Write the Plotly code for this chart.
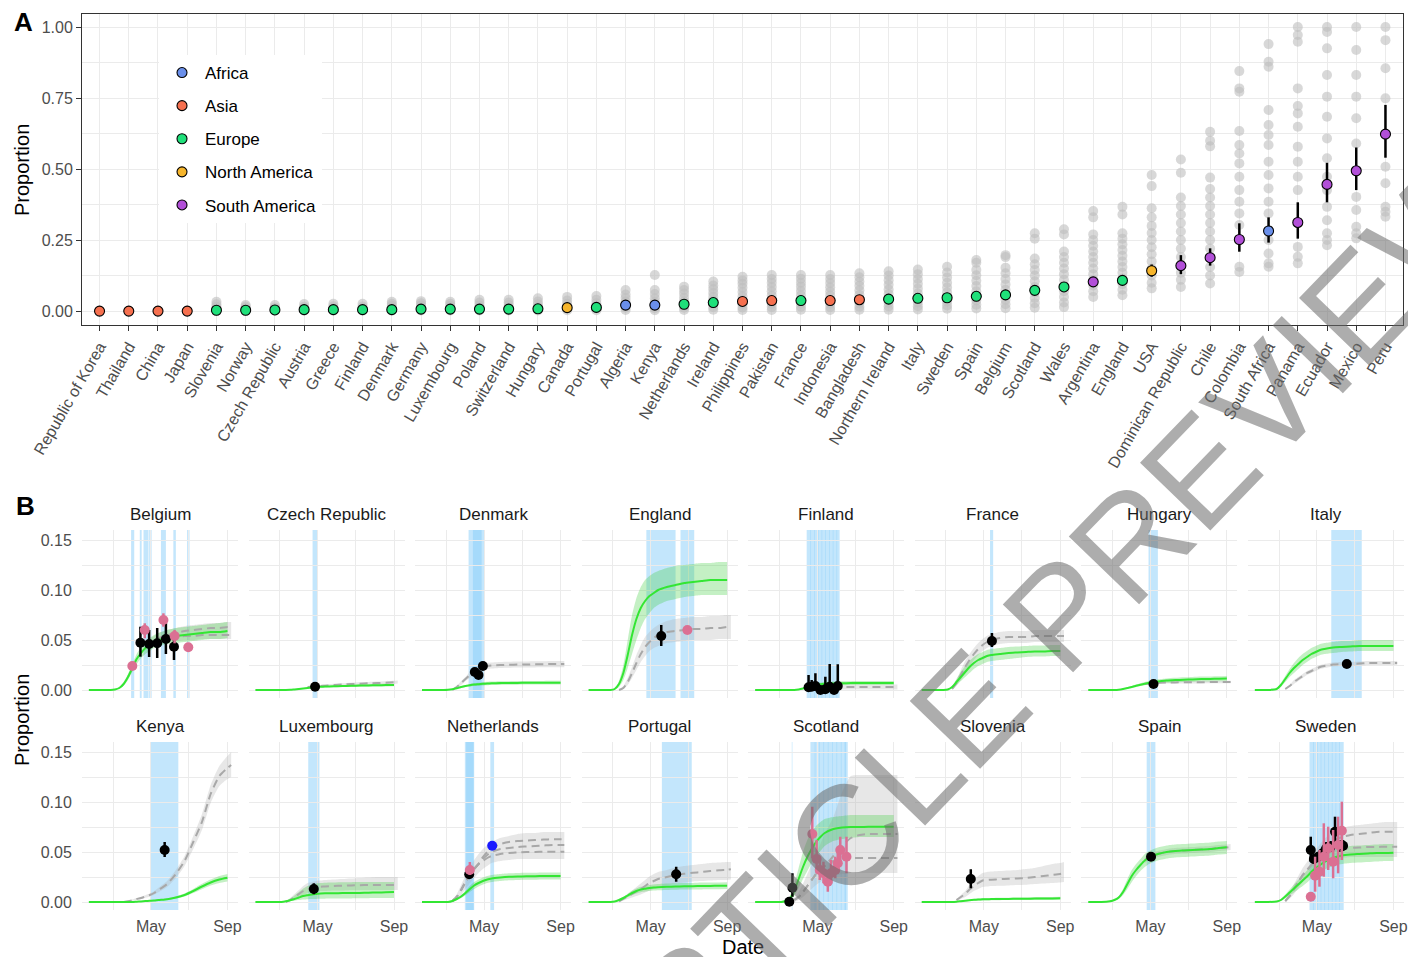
import plotly.graph_objects as go

N = None
FONT = "Liberation Sans, Arial, Helvetica, sans-serif"
W, H = 1408, 957

# ---------------- Panel A: estimated proportion per country ----------------
countries = ["Republic of Korea", "Thailand", "China", "Japan", "Slovenia", "Norway",
             "Czech Republic", "Austria", "Greece", "Finland", "Denmark", "Germany",
             "Luxembourg", "Poland", "Switzerland", "Hungary", "Canada", "Portugal",
             "Algeria", "Kenya", "Netherlands", "Ireland", "Philippines", "Pakistan",
             "France", "Indonesia", "Bangladesh", "Northern Ireland", "Italy", "Sweden",
             "Spain", "Belgium", "Scotland", "Wales", "Argentina", "England", "USA",
             "Dominican Republic", "Chile", "Colombia", "South Africa", "Panama",
             "Ecuador", "Mexico", "Peru"]
continent = ["Asia", "Asia", "Asia", "Asia", "Europe", "Europe",
             "Europe", "Europe", "Europe", "Europe", "Europe", "Europe",
             "Europe", "Europe", "Europe", "Europe", "North America", "Europe",
             "Africa", "Africa", "Europe", "Europe", "Asia", "Asia",
             "Europe", "Asia", "Asia", "Europe", "Europe", "Europe",
             "Europe", "Europe", "Europe", "Europe", "South America", "Europe", "North America",
             "South America", "South America", "South America", "Africa", "South America",
             "South America", "South America", "South America"]
estimate = [0.0, 0.0, 0.0, 0.0, 0.003, 0.003,
            0.004, 0.005, 0.005, 0.005, 0.005, 0.007,
            0.007, 0.007, 0.007, 0.008, 0.012, 0.013,
            0.021, 0.021, 0.024, 0.030, 0.034, 0.037,
            0.037, 0.037, 0.040, 0.042, 0.045, 0.047,
            0.052, 0.057, 0.073, 0.085, 0.103, 0.108, 0.142,
            0.160, 0.188, 0.252, 0.282, 0.312,
            0.446, 0.494, 0.623]
est_lo = [0.0, 0.0, 0.0, 0.0, 0.002, 0.002,
          0.003, 0.004, 0.004, 0.004, 0.004, 0.006,
          0.005, 0.006, 0.006, 0.007, 0.010, 0.011,
          0.018, 0.017, 0.021, 0.026, 0.030, 0.033,
          0.034, 0.033, 0.036, 0.038, 0.040, 0.043,
          0.047, 0.051, 0.066, 0.077, 0.094, 0.099, 0.121,
          0.130, 0.160, 0.209, 0.241, 0.255,
          0.383, 0.426, 0.540]
est_hi = [0.001, 0.001, 0.001, 0.001, 0.005, 0.005,
          0.006, 0.007, 0.007, 0.007, 0.007, 0.009,
          0.009, 0.009, 0.009, 0.010, 0.015, 0.016,
          0.025, 0.026, 0.028, 0.034, 0.039, 0.042,
          0.041, 0.042, 0.045, 0.046, 0.050, 0.052,
          0.058, 0.063, 0.081, 0.094, 0.113, 0.118, 0.164,
          0.197, 0.221, 0.309, 0.330, 0.383,
          0.522, 0.576, 0.726]
# sub-national estimates (grey dots), one list per country in the same order
region_vals = [
    [0.0, 0.001], [0.0, 0.001], [0.0, 0.001], [0.0, 0.002],
    [0.0, 0.004, 0.008, 0.015, 0.024, 0.033],
    [0.0, 0.003, 0.006, 0.011, 0.016, 0.021],
    [0.001, 0.004, 0.008, 0.013, 0.021],
    [0.001, 0.004, 0.009, 0.015, 0.025],
    [0.001, 0.005, 0.010, 0.017, 0.026],
    [0.001, 0.005, 0.010, 0.016, 0.026],
    [0.001, 0.005, 0.011, 0.019, 0.026, 0.033],
    [0.002, 0.006, 0.012, 0.020, 0.028, 0.035],
    [0.002, 0.006, 0.012, 0.019, 0.026, 0.033],
    [0.002, 0.007, 0.013, 0.020, 0.030, 0.040],
    [0.002, 0.007, 0.013, 0.021, 0.030, 0.040],
    [0.002, 0.008, 0.015, 0.024, 0.034, 0.045],
    [0.003, 0.009, 0.017, 0.026, 0.037, 0.050],
    [0.003, 0.010, 0.018, 0.028, 0.040, 0.053],
    [0.004, 0.012, 0.022, 0.034, 0.046, 0.058, 0.074],
    [0.003, 0.010, 0.020, 0.032, 0.045, 0.060, 0.074, 0.127],
    [0.004, 0.012, 0.022, 0.034, 0.047, 0.062, 0.074, 0.086],
    [0.005, 0.014, 0.025, 0.037, 0.050, 0.064, 0.078, 0.090, 0.104],
    [0.004, 0.013, 0.025, 0.038, 0.052, 0.067, 0.082, 0.096, 0.108, 0.121],
    [0.004, 0.014, 0.026, 0.040, 0.055, 0.070, 0.085, 0.100, 0.113, 0.127],
    [0.005, 0.015, 0.027, 0.041, 0.056, 0.071, 0.086, 0.100, 0.114, 0.127],
    [0.004, 0.014, 0.026, 0.040, 0.055, 0.069, 0.084, 0.099, 0.113, 0.127],
    [0.005, 0.015, 0.028, 0.042, 0.057, 0.073, 0.089, 0.104, 0.119, 0.133],
    [0.005, 0.016, 0.029, 0.044, 0.060, 0.076, 0.093, 0.109, 0.125, 0.140],
    [0.006, 0.017, 0.030, 0.046, 0.062, 0.079, 0.096, 0.113, 0.130, 0.146],
    [0.008, 0.020, 0.034, 0.050, 0.066, 0.083, 0.100, 0.118, 0.136, 0.156],
    [0.009, 0.022, 0.037, 0.053, 0.070, 0.088, 0.107, 0.126, 0.145, 0.170, 0.180],
    [0.010, 0.024, 0.040, 0.057, 0.075, 0.094, 0.113, 0.133, 0.153, 0.190, 0.197],
    [0.012, 0.028, 0.046, 0.065, 0.085, 0.105, 0.125, 0.145, 0.165, 0.185, 0.255, 0.274],
    [0.014, 0.030, 0.050, 0.070, 0.090, 0.110, 0.130, 0.150, 0.170, 0.190, 0.210, 0.270, 0.288],
    [0.050, 0.070, 0.090, 0.110, 0.130, 0.150, 0.170, 0.190, 0.210, 0.230, 0.250, 0.270, 0.330, 0.352],
    [0.056, 0.075, 0.095, 0.115, 0.135, 0.155, 0.175, 0.195, 0.215, 0.235, 0.255, 0.274, 0.340, 0.367],
    [0.080, 0.100, 0.125, 0.150, 0.175, 0.200, 0.225, 0.250, 0.275, 0.300, 0.330, 0.362, 0.440, 0.479],
    [0.085, 0.110, 0.135, 0.160, 0.190, 0.220, 0.250, 0.280, 0.310, 0.340, 0.370, 0.400, 0.487, 0.534],
    [0.097, 0.125, 0.155, 0.190, 0.220, 0.250, 0.280, 0.310, 0.340, 0.370, 0.400, 0.430, 0.470, 0.580, 0.600, 0.631],
    [0.138, 0.156, 0.303, 0.344, 0.385, 0.426, 0.473, 0.520, 0.555, 0.585, 0.634, 0.772, 0.784, 0.845],
    [0.156, 0.168, 0.203, 0.250, 0.285, 0.344, 0.385, 0.432, 0.479, 0.526, 0.585, 0.620, 0.655, 0.708, 0.860, 0.878, 0.940],
    [0.168, 0.191, 0.226, 0.426, 0.473, 0.526, 0.579, 0.649, 0.696, 0.722, 0.784, 0.948, 0.972, 1.000],
    [0.232, 0.250, 0.274, 0.320, 0.367, 0.426, 0.473, 0.538, 0.608, 0.684, 0.755, 0.831, 0.925, 0.983, 1.000],
    [0.256, 0.274, 0.297, 0.356, 0.402, 0.590, 0.679, 0.755, 0.831, 0.919, 1.000],
    [0.332, 0.350, 0.367, 0.450, 0.508, 0.749, 0.855, 0.954, 1.000],
]

continents = ["Africa", "Asia", "Europe", "North America", "South America"]
continent_colors = ["#6A8FEA", "#F6704F", "#1FE07A", "#F6B52C", "#B24FD8"]

# ---------------- Panel B: modelled trajectories vs serosurveys ----------------
facets = ["Belgium", "Czech Republic", "Denmark", "England", "Finland", "France", "Hungary", "Italy",
          "Kenya", "Luxembourg", "Netherlands", "Portugal", "Scotland", "Slovenia", "Spain", "Sweden"]

model_dates = ["2020-01-22", "2020-02-12", "2020-02-26", "2020-03-04", "2020-03-11", "2020-03-18",
               "2020-03-25", "2020-04-01", "2020-04-08", "2020-04-15", "2020-04-22", "2020-04-29",
               "2020-05-06", "2020-05-13", "2020-05-27", "2020-06-10", "2020-06-24", "2020-07-08",
               "2020-07-22", "2020-08-05", "2020-08-19", "2020-09-01", "2020-09-07"]

green_mid = {
    "Belgium": [0, 0, 0, 0.0005, 0.002, 0.006, 0.013, 0.022, 0.031, 0.037, 0.042, 0.045, 0.048, 0.050, 0.052, 0.054, 0.055, 0.056, 0.057, 0.058, 0.058, 0.059, N],
    "Czech Republic": [0, 0, 0, 0, 0, 0.0002, 0.0006, 0.001, 0.0015, 0.002, 0.0025, 0.003, 0.0032, 0.0034, 0.0037, 0.004, 0.0042, 0.0044, 0.0046, 0.0048, 0.0049, 0.005, N],
    "Denmark": [0, 0, 0, 0.0002, 0.0008, 0.0018, 0.003, 0.004, 0.0048, 0.0054, 0.0058, 0.0062, 0.0065, 0.0067, 0.0069, 0.007, 0.0071, 0.0072, 0.0072, 0.0073, 0.0073, 0.0073, N],
    "England": [0, 0, 0, 0.001, 0.006, 0.017, 0.035, 0.055, 0.071, 0.082, 0.089, 0.094, 0.097, 0.100, 0.103, 0.105, 0.107, 0.108, 0.109, 0.110, 0.110, 0.110, N],
    "Finland": [0, 0, 0, 0, 0, 0, 0, 0.0005, 0.0015, 0.0028, 0.004, 0.005, 0.0057, 0.0062, 0.0066, 0.0068, 0.0069, 0.007, 0.007, 0.007, 0.007, 0.007, N],
    "France": [0, 0, 0, 0.0005, 0.003, 0.008, 0.013, 0.018, 0.023, 0.027, 0.030, 0.032, 0.034, 0.035, 0.036, 0.037, 0.0375, 0.038, 0.0385, 0.0385, 0.039, 0.039, N],
    "Hungary": [0, 0, 0, 0, 0.0003, 0.001, 0.002, 0.003, 0.0042, 0.0053, 0.0063, 0.0072, 0.008, 0.0086, 0.0094, 0.0099, 0.0103, 0.0106, 0.0109, 0.0111, 0.0113, 0.0115, N],
    "Italy": [0, 0, 0.001, 0.005, 0.011, 0.017, 0.022, 0.026, 0.030, 0.033, 0.036, 0.038, 0.040, 0.041, 0.0425, 0.043, 0.0435, 0.044, 0.044, 0.044, 0.044, 0.044, N],
    "Kenya": [0, 0, 0, 0, 0, 0, 0, 0, 0.0003, 0.0006, 0.0009, 0.0012, 0.0015, 0.002, 0.0028, 0.0045, 0.007, 0.011, 0.0155, 0.0195, 0.0225, 0.0243, N],
    "Luxembourg": [0, 0, 0, 0, 0.0007, 0.0018, 0.003, 0.0045, 0.006, 0.0068, 0.0075, 0.008, 0.0085, 0.0087, 0.0088, 0.0089, 0.009, 0.0091, 0.0093, 0.0095, 0.0097, 0.01, N],
    "Netherlands": [0, 0, 0, 0, 0.001, 0.003, 0.0055, 0.009, 0.013, 0.0165, 0.019, 0.021, 0.0225, 0.0235, 0.0245, 0.0252, 0.0255, 0.0257, 0.0258, 0.026, 0.026, 0.026, N],
    "Portugal": [0, 0, 0, 0.0005, 0.002, 0.004, 0.0065, 0.009, 0.011, 0.0125, 0.0133, 0.014, 0.0145, 0.0148, 0.0152, 0.0155, 0.0157, 0.0158, 0.016, 0.0161, 0.0162, 0.0163, N],
    "Scotland": [0, 0, 0, 0, 0.001, 0.0035, 0.011, 0.023, 0.035, 0.045, 0.053, 0.060, 0.065, 0.069, 0.073, 0.0745, 0.075, 0.075, 0.0752, 0.0753, 0.0753, 0.0753, N],
    "Slovenia": [0, 0, 0, 0, 0, 0.0003, 0.0008, 0.0013, 0.0018, 0.0022, 0.0025, 0.0027, 0.0028, 0.0029, 0.003, 0.0031, 0.0032, 0.0033, 0.0034, 0.0035, 0.0036, 0.0037, N],
    "Spain": [0, 0, 0.0008, 0.002, 0.0045, 0.010, 0.018, 0.026, 0.032, 0.037, 0.0415, 0.0445, 0.0465, 0.048, 0.050, 0.051, 0.0515, 0.052, 0.0525, 0.053, 0.054, 0.0547, N],
    "Sweden": [0, 0, 0.0005, 0.002, 0.0055, 0.0095, 0.0135, 0.0175, 0.0215, 0.0255, 0.030, 0.034, 0.037, 0.040, 0.044, 0.0465, 0.0475, 0.048, 0.0485, 0.049, 0.049, 0.0493, N],
}
green_lo = {
    "Belgium": [0, 0, 0, 0.0003, 0.0015, 0.0045, 0.010, 0.018, 0.026, 0.032, 0.036, 0.039, 0.042, 0.044, 0.046, 0.047, 0.048, 0.049, 0.050, 0.051, 0.051, 0.052, N],
    "Czech Republic": [0, 0, 0, 0, 0, 0.0001, 0.0003, 0.0006, 0.001, 0.0014, 0.0018, 0.0022, 0.0024, 0.0026, 0.0028, 0.003, 0.0032, 0.0033, 0.0034, 0.0035, 0.0036, 0.0037, N],
    "Denmark": [0, 0, 0, 0.0001, 0.0005, 0.0012, 0.0021, 0.0029, 0.0035, 0.004, 0.0043, 0.0046, 0.0048, 0.005, 0.0051, 0.0052, 0.0053, 0.0054, 0.0054, 0.0055, 0.0055, 0.0055, N],
    "England": [0, 0, 0, 0.0005, 0.003, 0.010, 0.022, 0.036, 0.050, 0.062, 0.071, 0.077, 0.082, 0.085, 0.089, 0.091, 0.093, 0.094, 0.095, 0.095, 0.095, 0.095, N],
    "Finland": [0, 0, 0, 0, 0, 0, 0, 0.0003, 0.001, 0.0019, 0.0028, 0.0035, 0.004, 0.0044, 0.0047, 0.0049, 0.005, 0.005, 0.005, 0.005, 0.005, 0.005, N],
    "France": [0, 0, 0, 0.0003, 0.002, 0.005, 0.009, 0.013, 0.017, 0.021, 0.024, 0.026, 0.028, 0.029, 0.030, 0.031, 0.032, 0.033, 0.0335, 0.0335, 0.034, 0.034, N],
    "Hungary": [0, 0, 0, 0, 0.0002, 0.0007, 0.0014, 0.0021, 0.003, 0.0039, 0.0047, 0.0054, 0.006, 0.0065, 0.0072, 0.0076, 0.0079, 0.0082, 0.0084, 0.0086, 0.0088, 0.009, N],
    "Italy": [0, 0, 0.0005, 0.003, 0.008, 0.013, 0.017, 0.021, 0.025, 0.028, 0.031, 0.033, 0.035, 0.036, 0.037, 0.038, 0.0385, 0.039, 0.039, 0.039, 0.039, 0.039, N],
    "Kenya": [0, 0, 0, 0, 0, 0, 0, 0, 0.0002, 0.0004, 0.0006, 0.0008, 0.001, 0.0014, 0.002, 0.0034, 0.0055, 0.009, 0.0128, 0.0165, 0.019, 0.0205, N],
    "Luxembourg": [0, 0, 0, 0, 0.0003, 0.0008, 0.0014, 0.002, 0.0025, 0.0028, 0.003, 0.0031, 0.0032, 0.0033, 0.0034, 0.0035, 0.0036, 0.0037, 0.0038, 0.0039, 0.004, 0.004, N],
    "Netherlands": [0, 0, 0, 0, 0.0005, 0.002, 0.004, 0.0068, 0.01, 0.013, 0.0155, 0.0175, 0.019, 0.02, 0.021, 0.0217, 0.022, 0.0222, 0.0223, 0.0225, 0.0225, 0.0225, N],
    "Portugal": [0, 0, 0, 0.0003, 0.0013, 0.0028, 0.0048, 0.0068, 0.0085, 0.0098, 0.0105, 0.011, 0.0114, 0.0117, 0.012, 0.0122, 0.0124, 0.0125, 0.0126, 0.0127, 0.0128, 0.0129, N],
    "Scotland": [0, 0, 0, 0, 0.0005, 0.002, 0.006, 0.014, 0.023, 0.031, 0.039, 0.046, 0.051, 0.056, 0.061, 0.063, 0.064, 0.065, 0.065, 0.065, 0.065, 0.065, N],
    "Slovenia": [0, 0, 0, 0, 0, 0.0001, 0.0004, 0.0007, 0.001, 0.0013, 0.0015, 0.0016, 0.0017, 0.0018, 0.0018, 0.0019, 0.0019, 0.002, 0.002, 0.0021, 0.0021, 0.0022, N],
    "Spain": [0, 0, 0.0004, 0.0012, 0.003, 0.007, 0.013, 0.020, 0.026, 0.031, 0.035, 0.038, 0.040, 0.0415, 0.0435, 0.0445, 0.045, 0.0455, 0.046, 0.0465, 0.0475, 0.048, N],
    "Sweden": [0, 0, 0.0003, 0.0012, 0.0035, 0.0065, 0.0095, 0.0128, 0.016, 0.0195, 0.0235, 0.027, 0.030, 0.0325, 0.036, 0.038, 0.039, 0.0395, 0.040, 0.0405, 0.041, 0.041, N],
}
green_hi = {
    "Belgium": [0, 0, 0, 0.0008, 0.003, 0.008, 0.016, 0.026, 0.036, 0.043, 0.048, 0.052, 0.055, 0.057, 0.060, 0.062, 0.063, 0.064, 0.065, 0.066, 0.067, 0.068, N],
    "Czech Republic": [0, 0, 0, 0, 0, 0.0004, 0.0009, 0.0014, 0.002, 0.0026, 0.0032, 0.0038, 0.004, 0.0043, 0.0046, 0.005, 0.0052, 0.0055, 0.0058, 0.006, 0.0062, 0.0063, N],
    "Denmark": [0, 0, 0, 0.0003, 0.0011, 0.0024, 0.0039, 0.0051, 0.0061, 0.0068, 0.0073, 0.0078, 0.0082, 0.0084, 0.0087, 0.0088, 0.0089, 0.009, 0.0091, 0.0091, 0.0092, 0.0092, N],
    "England": [0, 0, 0, 0.0015, 0.009, 0.025, 0.050, 0.075, 0.092, 0.103, 0.110, 0.114, 0.117, 0.119, 0.122, 0.124, 0.125, 0.126, 0.127, 0.127, 0.128, 0.128, N],
    "Finland": [0, 0, 0, 0, 0, 0, 0, 0.0007, 0.002, 0.0037, 0.0052, 0.0065, 0.0074, 0.008, 0.0085, 0.0087, 0.0088, 0.0089, 0.009, 0.009, 0.009, 0.009, N],
    "France": [0, 0, 0, 0.0008, 0.004, 0.011, 0.018, 0.024, 0.029, 0.033, 0.036, 0.038, 0.040, 0.041, 0.042, 0.043, 0.0435, 0.044, 0.0445, 0.0445, 0.045, 0.045, N],
    "Hungary": [0, 0, 0, 0, 0.0004, 0.0013, 0.0026, 0.0039, 0.0054, 0.0067, 0.0079, 0.009, 0.01, 0.0107, 0.0116, 0.0122, 0.0127, 0.013, 0.0134, 0.0136, 0.0138, 0.014, N],
    "Italy": [0, 0, 0.0015, 0.007, 0.014, 0.021, 0.027, 0.032, 0.036, 0.039, 0.042, 0.044, 0.046, 0.047, 0.048, 0.049, 0.049, 0.050, 0.050, 0.050, 0.050, 0.050, N],
    "Kenya": [0, 0, 0, 0, 0, 0, 0, 0, 0.0004, 0.0008, 0.0012, 0.0016, 0.002, 0.0026, 0.0036, 0.0056, 0.0085, 0.013, 0.0182, 0.0225, 0.026, 0.028, N],
    "Luxembourg": [0, 0, 0, 0, 0.0012, 0.0035, 0.0065, 0.01, 0.0135, 0.016, 0.0175, 0.0185, 0.019, 0.0193, 0.0195, 0.0197, 0.0198, 0.0199, 0.02, 0.02, 0.02, 0.02, N],
    "Netherlands": [0, 0, 0, 0, 0.0015, 0.004, 0.007, 0.0112, 0.016, 0.02, 0.0225, 0.0245, 0.026, 0.027, 0.028, 0.0287, 0.029, 0.0292, 0.0293, 0.0295, 0.0295, 0.0295, N],
    "Portugal": [0, 0, 0, 0.0007, 0.0027, 0.0052, 0.0082, 0.0112, 0.0135, 0.0152, 0.0161, 0.017, 0.0176, 0.0179, 0.0184, 0.0188, 0.019, 0.0191, 0.0194, 0.0195, 0.0196, 0.0197, N],
    "Scotland": [0, 0, 0, 0, 0.0015, 0.006, 0.018, 0.034, 0.050, 0.062, 0.070, 0.076, 0.080, 0.083, 0.085, 0.086, 0.087, 0.087, 0.087, 0.087, 0.087, 0.087, N],
    "Slovenia": [0, 0, 0, 0, 0, 0.0005, 0.0012, 0.0019, 0.0026, 0.0031, 0.0035, 0.0038, 0.0039, 0.004, 0.0042, 0.0043, 0.0045, 0.0046, 0.0048, 0.0049, 0.0051, 0.0052, N],
    "Spain": [0, 0, 0.0012, 0.003, 0.006, 0.013, 0.023, 0.032, 0.038, 0.043, 0.048, 0.051, 0.053, 0.0545, 0.0565, 0.0575, 0.058, 0.0585, 0.059, 0.0595, 0.0605, 0.061, N],
    "Sweden": [0, 0, 0.0007, 0.0028, 0.0075, 0.0125, 0.0175, 0.0222, 0.027, 0.0315, 0.0365, 0.041, 0.044, 0.0475, 0.052, 0.055, 0.056, 0.0565, 0.057, 0.0575, 0.058, 0.058, N],
}

# alternative-model trajectories (dashed grey); some countries have several
grey_mid = {
    "Belgium": [[N] * 10 + [0.044, 0.047, 0.050, 0.052, 0.055, 0.057, 0.059, 0.060, 0.061, 0.062, 0.062, 0.063, 0.063],
                [N] * 10 + [0.044, 0.046, 0.048, 0.050, 0.052, 0.053, 0.054, 0.054, 0.055, 0.055, 0.055, 0.055, 0.055]],
    "Czech Republic": [[N] * 9 + [0.003, 0.0033, 0.0036, 0.004, 0.0043, 0.005, 0.0055, 0.006, 0.0063, 0.0067, 0.007, 0.0073, 0.0077, 0.008]],
    "Denmark": [[N] * 4 + [0.0, 0.003, 0.007, 0.011, 0.015, 0.019, 0.021, 0.023, 0.024, 0.0245, 0.025, 0.0252, 0.0254, 0.0255, 0.0257, 0.0258, 0.026, 0.026, 0.026]],
    "England": [[N] * 4 + [0.0, 0.002, 0.008, 0.017, 0.027, 0.036, 0.043, 0.048, 0.052, 0.055, 0.058, 0.059, 0.060, 0.061, 0.061, 0.062, 0.062, 0.063, 0.063]],
    "Finland": [[N] * 14 + [0.003] * 9],
    "France": [[N] * 4 + [0.001, 0.007, 0.015, 0.023, 0.030, 0.036, 0.041, 0.045, 0.048, 0.050, 0.052, 0.053, 0.053, 0.053, 0.054, 0.054, 0.054, 0.054, 0.054]],
    "Hungary": [[N] * 10 + [0.006, 0.0065, 0.007, 0.0073, 0.0075, 0.0076, 0.0077, 0.0078, 0.0078, 0.0079, 0.008, 0.008, 0.008]],
    "Italy": [[N] * 4 + [0.001, 0.004, 0.008, 0.011, 0.014, 0.017, 0.019, 0.021, 0.023, 0.024, 0.0255, 0.026, 0.026, 0.0265, 0.027, 0.027, 0.027, 0.027, 0.027]],
    "Kenya": [[N] * 5 + [0.0, 0.0008, 0.0018, 0.003, 0.004, 0.0055, 0.007, 0.009, 0.012, 0.018, 0.028, 0.041, 0.06, 0.08, 0.108, 0.126, 0.134, 0.137]],
    "Luxembourg": [[N] * 4 + [0.0, 0.002, 0.005, 0.008, 0.011, 0.013, 0.014, 0.015, 0.0153, 0.0156, 0.016, 0.0163, 0.0166, 0.0168, 0.017, 0.017, 0.017, 0.017, 0.017]],
    "Netherlands": [[N] * 4 + [0.001, 0.005, 0.012, 0.020, 0.027, 0.033, 0.038, 0.043, 0.047, 0.050, 0.053, 0.054, 0.055, 0.0555, 0.056, 0.0565, 0.057, 0.057, 0.057],
                    [N] * 4 + [0.001, 0.005, 0.012, 0.020, 0.027, 0.033, 0.038, 0.045, 0.050, 0.054, 0.058, 0.060, 0.061, 0.0615, 0.062, 0.0625, 0.0627, 0.0627, 0.0627],
                    [N] * 4 + [0.001, 0.005, 0.012, 0.020, 0.027, 0.033, 0.038, 0.041, 0.044, 0.046, 0.048, 0.049, 0.0495, 0.050, 0.050, 0.0503, 0.0503, 0.0503, 0.0503]],
    "Portugal": [[N] * 4 + [0.0005, 0.003, 0.0055, 0.008, 0.0105, 0.013, 0.016, 0.019, 0.021, 0.023, 0.025, 0.027, 0.0282, 0.0292, 0.030, 0.031, 0.0318, 0.0323, 0.0327]],
    "Scotland": [[N] * 6 + [0.002, 0.005, 0.010, 0.016, 0.022, 0.028, 0.032, 0.036, 0.041, 0.0435, 0.044, 0.044, 0.044, 0.044, 0.044, 0.044, 0.044],
                 [N] * 6 + [0.002, 0.005, 0.010, 0.016, 0.022, 0.028, 0.032, 0.036, 0.046, 0.056, 0.064, 0.067, 0.068, 0.068, 0.068, 0.068, 0.068]],
    "Slovenia": [[N] * 5 + [0.002, 0.005, 0.008, 0.0125, 0.016, 0.019, 0.0215, 0.022, 0.0223, 0.0228, 0.0232, 0.0236, 0.024, 0.025, 0.026, 0.027, 0.028, 0.0287]],
    "Spain": [[N] * 10 + [0.042, 0.045, 0.047, 0.048, 0.050, 0.051, 0.0515, 0.052, 0.0525, 0.053, 0.054, 0.0545, 0.055]],
    "Sweden": [[N] * 4 + [0.001, 0.006, 0.013, 0.020, 0.027, 0.032, 0.037, 0.041, 0.044, 0.047, 0.051, 0.053, 0.054, 0.0545, 0.055, 0.055, 0.0553, 0.0553, 0.0553],
               [N] * 4 + [0.001, 0.006, 0.013, 0.020, 0.027, 0.032, 0.037, 0.044, 0.049, 0.054, 0.061, 0.065, 0.067, 0.068, 0.069, 0.070, 0.0703, 0.0703, 0.0703]],
}
grey_lo = {
    "Belgium": [N] * 10 + [0.040, 0.042, 0.044, 0.046, 0.048, 0.049, 0.050, 0.050, 0.051, 0.051, 0.051, 0.051, 0.051],
    "Czech Republic": [N] * 9 + [0.002, 0.0023, 0.0026, 0.0029, 0.0032, 0.0038, 0.0043, 0.0047, 0.005, 0.0053, 0.0056, 0.0059, 0.0062, 0.0065],
    "Denmark": [N] * 4 + [0.0, 0.002, 0.005, 0.009, 0.012, 0.016, 0.018, 0.020, 0.021, 0.0215, 0.022, 0.0222, 0.0224, 0.0225, 0.0226, 0.0227, 0.0228, 0.0228, 0.0228],
    "England": [N] * 4 + [0.0, 0.001, 0.005, 0.012, 0.020, 0.028, 0.034, 0.039, 0.042, 0.044, 0.047, 0.048, 0.049, 0.050, 0.050, 0.050, 0.051, 0.051, 0.051],
    "Finland": [N] * 14 + [0.0005] * 9,
    "France": [N] * 4 + [0.0, 0.004, 0.010, 0.017, 0.024, 0.030, 0.035, 0.039, 0.042, 0.044, 0.046, 0.047, 0.047, 0.047, 0.048, 0.048, 0.048, 0.048, 0.048],
    "Hungary": [N] * 10 + [0.005, 0.0055, 0.0059, 0.0062, 0.0064, 0.0065, 0.0066, 0.0066, 0.0066, 0.0067, 0.0067, 0.0067, 0.0067],
    "Italy": [N] * 4 + [0.0, 0.003, 0.006, 0.009, 0.012, 0.015, 0.017, 0.019, 0.021, 0.022, 0.0235, 0.024, 0.024, 0.0245, 0.025, 0.025, 0.025, 0.025, 0.025],
    "Kenya": [N] * 5 + [0.0, 0.0005, 0.0012, 0.002, 0.003, 0.0042, 0.0055, 0.0072, 0.0098, 0.015, 0.024, 0.036, 0.053, 0.072, 0.099, 0.116, 0.123, 0.125],
    "Luxembourg": [N] * 4 + [0.0, 0.001, 0.003, 0.005, 0.007, 0.009, 0.010, 0.0105, 0.011, 0.011, 0.0115, 0.0115, 0.012, 0.012, 0.012, 0.012, 0.012, 0.012, 0.012],
    "Netherlands": [N] * 4 + [0.0, 0.002, 0.007, 0.013, 0.019, 0.024, 0.029, 0.033, 0.036, 0.039, 0.041, 0.042, 0.043, 0.043, 0.043, 0.043, 0.043, 0.043, 0.043],
    "Portugal": [N] * 4 + [0.0, 0.0015, 0.003, 0.0045, 0.006, 0.0075, 0.0095, 0.0115, 0.013, 0.015, 0.017, 0.0185, 0.0195, 0.0205, 0.021, 0.0215, 0.022, 0.022, 0.0225],
    "Scotland": [N] * 6 + [0.0, 0.002, 0.005, 0.009, 0.013, 0.017, 0.020, 0.023, 0.026, 0.028, 0.029, 0.029, 0.029, 0.029, 0.029, 0.029, 0.029],
    "Slovenia": [N] * 5 + [0.001, 0.003, 0.005, 0.008, 0.011, 0.013, 0.015, 0.0155, 0.016, 0.0163, 0.0166, 0.017, 0.0173, 0.018, 0.0185, 0.019, 0.0195, 0.020],
    "Spain": [N] * 10 + [0.039, 0.042, 0.044, 0.045, 0.047, 0.048, 0.0485, 0.049, 0.0495, 0.050, 0.051, 0.0515, 0.052],
    "Sweden": [N] * 4 + [0.0, 0.003, 0.008, 0.014, 0.020, 0.025, 0.029, 0.033, 0.036, 0.039, 0.042, 0.044, 0.045, 0.045, 0.045, 0.045, 0.045, 0.045, 0.045],
}
grey_hi = {
    "Belgium": [N] * 10 + [0.048, 0.051, 0.054, 0.057, 0.060, 0.062, 0.064, 0.065, 0.066, 0.067, 0.067, 0.068, 0.068],
    "Czech Republic": [N] * 9 + [0.004, 0.0043, 0.0047, 0.0051, 0.0055, 0.0062, 0.0068, 0.0073, 0.0077, 0.0081, 0.0085, 0.0088, 0.0092, 0.0095],
    "Denmark": [N] * 4 + [0.001, 0.004, 0.009, 0.013, 0.018, 0.022, 0.024, 0.026, 0.027, 0.0275, 0.028, 0.0282, 0.0284, 0.0285, 0.0287, 0.0288, 0.029, 0.029, 0.029],
    "England": [N] * 4 + [0.0005, 0.004, 0.012, 0.023, 0.035, 0.045, 0.053, 0.058, 0.062, 0.065, 0.069, 0.071, 0.072, 0.073, 0.073, 0.074, 0.074, 0.075, 0.075],
    "Finland": [N] * 14 + [0.0055] * 9,
    "France": [N] * 4 + [0.002, 0.010, 0.020, 0.029, 0.036, 0.042, 0.047, 0.051, 0.054, 0.056, 0.058, 0.059, 0.059, 0.059, 0.060, 0.060, 0.060, 0.060, 0.060],
    "Hungary": [N] * 10 + [0.007, 0.0075, 0.0081, 0.0085, 0.0087, 0.0088, 0.0089, 0.009, 0.0091, 0.0092, 0.0093, 0.0093, 0.0093],
    "Italy": [N] * 4 + [0.002, 0.005, 0.010, 0.013, 0.016, 0.019, 0.021, 0.023, 0.025, 0.026, 0.0275, 0.028, 0.028, 0.0285, 0.029, 0.029, 0.029, 0.029, 0.029],
    "Kenya": [N] * 5 + [0.0, 0.0011, 0.0024, 0.004, 0.0052, 0.0068, 0.0085, 0.0108, 0.0142, 0.021, 0.032, 0.046, 0.066, 0.088, 0.117, 0.136, 0.146, 0.150],
    "Luxembourg": [N] * 4 + [0.0005, 0.004, 0.008, 0.012, 0.016, 0.019, 0.020, 0.021, 0.0215, 0.022, 0.0225, 0.023, 0.0235, 0.024, 0.0245, 0.025, 0.025, 0.025, 0.025],
    "Netherlands": [N] * 4 + [0.002, 0.008, 0.017, 0.027, 0.035, 0.042, 0.048, 0.053, 0.057, 0.060, 0.064, 0.066, 0.068, 0.069, 0.069, 0.070, 0.070, 0.070, 0.070],
    "Portugal": [N] * 4 + [0.001, 0.0045, 0.008, 0.0115, 0.015, 0.0185, 0.022, 0.0255, 0.028, 0.030, 0.032, 0.0345, 0.036, 0.037, 0.038, 0.039, 0.0395, 0.040, 0.040],
    "Scotland": [N] * 6 + [0.004, 0.010, 0.018, 0.028, 0.038, 0.048, 0.058, 0.068, 0.085, 0.110, 0.126, 0.127, 0.127, 0.127, 0.127, 0.127, 0.127],
    "Slovenia": [N] * 5 + [0.003, 0.007, 0.011, 0.017, 0.022, 0.026, 0.029, 0.030, 0.0305, 0.031, 0.0315, 0.032, 0.033, 0.034, 0.036, 0.038, 0.039, 0.040],
    "Spain": [N] * 10 + [0.045, 0.048, 0.050, 0.051, 0.053, 0.054, 0.0545, 0.055, 0.0555, 0.056, 0.057, 0.0575, 0.058],
    "Sweden": [N] * 4 + [0.002, 0.009, 0.018, 0.026, 0.034, 0.040, 0.046, 0.052, 0.058, 0.063, 0.070, 0.074, 0.076, 0.077, 0.078, 0.079, 0.080, 0.080, 0.080],
}

# sampling windows of the serosurveys (blue bands)
survey_windows = {
    "Belgium": [("2020-03-30", "2020-04-04"), ("2020-04-13", "2020-04-16"), ("2020-04-19", "2020-04-27"),
                ("2020-04-28", "2020-05-02"), ("2020-05-17", "2020-05-25"), ("2020-06-06", "2020-06-10"),
                ("2020-06-28", "2020-07-02")],
    "Czech Republic": [("2020-04-23", "2020-05-01")],
    "Denmark": [("2020-04-06", "2020-04-27"), ("2020-04-13", "2020-05-02")],
    "England": [("2020-04-24", "2020-06-10"), ("2020-06-18", "2020-07-10")],
    "Finland": [("2020-04-14", "2020-04-21"), ("2020-04-20", "2020-04-27"), ("2020-04-26", "2020-05-03"),
                ("2020-05-02", "2020-05-09"), ("2020-05-08", "2020-05-15"), ("2020-05-14", "2020-05-21"),
                ("2020-05-20", "2020-05-27"), ("2020-05-26", "2020-06-02"), ("2020-06-01", "2020-06-06")],
    "France": [("2020-05-11", "2020-05-16")],
    "Hungary": [("2020-04-28", "2020-05-13")],
    "Italy": [("2020-05-24", "2020-07-12")],
    "Kenya": [("2020-04-30", "2020-06-14")],
    "Luxembourg": [("2020-04-16", "2020-05-04")],
    "Netherlands": [("2020-03-31", "2020-04-15"), ("2020-04-02", "2020-04-14"), ("2020-05-11", "2020-05-17")],
    "Portugal": [("2020-05-19", "2020-07-06")],
    "Scotland": [("2020-03-21", "2020-03-22"), ("2020-04-20", "2020-04-28"), ("2020-04-27", "2020-05-05"),
                 ("2020-05-04", "2020-05-12"), ("2020-05-11", "2020-05-19"), ("2020-05-18", "2020-05-26"),
                 ("2020-05-25", "2020-06-02"), ("2020-06-01", "2020-06-09"), ("2020-06-08", "2020-06-16"),
                 ("2020-06-14", "2020-06-19")],
    "Slovenia": [],
    "Spain": [("2020-04-25", "2020-05-09")],
    "Sweden": [("2020-04-19", "2020-04-26"), ("2020-04-25", "2020-05-02"), ("2020-05-01", "2020-05-08"),
               ("2020-05-07", "2020-05-14"), ("2020-05-13", "2020-05-20"), ("2020-05-19", "2020-05-26"),
               ("2020-05-25", "2020-06-01"), ("2020-05-31", "2020-06-07"), ("2020-06-06", "2020-06-13")],
}

# serosurvey estimates (black)
black_dates = {
    "Belgium": ["2020-04-14", "2020-04-28", "2020-05-11", "2020-05-25", "2020-06-07"],
    "Czech Republic": ["2020-04-27"],
    "Denmark": ["2020-04-16", "2020-04-22", "2020-04-29"],
    "England": ["2020-05-18"],
    "Finland": ["2020-04-17", "2020-04-22", "2020-04-28", "2020-05-06", "2020-05-14", "2020-05-21", "2020-05-28", "2020-06-03"],
    "France": ["2020-05-14"],
    "Hungary": ["2020-05-06"],
    "Italy": ["2020-06-18"],
    "Kenya": ["2020-05-23"],
    "Luxembourg": ["2020-04-25"],
    "Netherlands": ["2020-04-07"],
    "Portugal": ["2020-06-11"],
    "Scotland": ["2020-03-17", "2020-03-22"],
    "Slovenia": ["2020-04-10"],
    "Spain": ["2020-05-02"],
    "Sweden": ["2020-04-21", "2020-04-26", "2020-05-03", "2020-05-10", "2020-05-16", "2020-05-23", "2020-05-30", "2020-06-06", "2020-06-12"],
}
black_vals = {
    "Belgium": [0.0473, 0.046, 0.0467, 0.051, 0.0433], "Czech Republic": [0.0033],
    "Denmark": [0.018, 0.015, 0.024], "England": [0.054],
    "Finland": [0.0027, 0.0033, 0.004, 0.0, 0.0007, 0.0033, 0.0, 0.004], "France": [0.049],
    "Hungary": [0.006], "Italy": [0.026], "Kenya": [0.052], "Luxembourg": [0.013],
    "Netherlands": [0.0277], "Portugal": [0.0277], "Scotland": [0.0003, 0.0143],
    "Slovenia": [0.023], "Spain": [0.0453],
    "Sweden": [0.052, 0.043, 0.0453, 0.0487, 0.0537, 0.0553, 0.0703, 0.057, 0.0563],
}
black_lo = {
    "Belgium": [0.0333, 0.033, 0.032, 0.036, 0.030], "Czech Republic": [0.0025],
    "Denmark": [0.016, 0.013, 0.022], "England": [0.044],
    "Finland": [0, 0, 0, 0, 0, 0, 0, 0], "France": [0.043],
    "Hungary": [0.005], "Italy": [0.025], "Kenya": [0.045], "Luxembourg": [0.0077],
    "Netherlands": [0.025], "Portugal": [0.0203], "Scotland": [0.0, 0.0053],
    "Slovenia": [0.0137], "Spain": [0.0445],
    "Sweden": [0.0403, 0.038, 0.040, 0.042, 0.047, 0.050, 0.0587, 0.050, 0.051],
}
black_hi = {
    "Belgium": [0.0633, 0.060, 0.062, 0.067, 0.053], "Czech Republic": [0.0042],
    "Denmark": [0.020, 0.017, 0.026], "England": [0.065],
    "Finland": [0.015, 0.010, 0.0167, 0.0033, 0.0133, 0.026, 0.0033, 0.0257], "France": [0.057],
    "Hungary": [0.007], "Italy": [0.027], "Kenya": [0.060], "Luxembourg": [0.0187],
    "Netherlands": [0.030], "Portugal": [0.0353], "Scotland": [0.001, 0.0287],
    "Slovenia": [0.0327], "Spain": [0.046],
    "Sweden": [0.0653, 0.048, 0.050, 0.055, 0.060, 0.061, 0.0853, 0.062, 0.062],
}

# second survey series (pink)
pink_dates = {
    "Belgium": ["2020-04-01", "2020-04-21", "2020-05-21", "2020-06-08", "2020-06-30"],
    "England": ["2020-06-29"],
    "Netherlands": ["2020-04-08"],
    "Scotland": ["2020-04-23", "2020-04-30", "2020-05-05", "2020-05-11", "2020-05-18",
                 "2020-05-23", "2020-05-30", "2020-06-03", "2020-06-07", "2020-06-17"],
    "Sweden": ["2020-04-21", "2020-04-28", "2020-05-05", "2020-05-12", "2020-05-19", "2020-05-27", "2020-06-04", "2020-06-10"],
}
pink_vals = {
    "Belgium": [0.024, 0.060, 0.070, 0.054, 0.0427], "England": [0.060], "Netherlands": [0.032],
    "Scotland": [0.068, 0.043, 0.032, 0.0287, 0.0203, 0.0287, 0.032, 0.0387, 0.052, 0.0453],
    "Sweden": [0.0053, 0.0263, 0.0303, 0.0453, 0.0537, 0.0403, 0.057, 0.0713],
}
pink_lo = {
    "Belgium": [0.022, 0.0517, 0.0633, 0.0467, 0.0383], "England": [0.058], "Netherlands": [0.027],
    "Scotland": [0.0437, 0.0287, 0.022, 0.0187, 0.0103, 0.0187, 0.0237, 0.0287, 0.0387, 0.0287],
    "Sweden": [0.004, 0.0103, 0.0153, 0.0253, 0.032, 0.0237, 0.0287, 0.042],
}
pink_hi = {
    "Belgium": [0.026, 0.0667, 0.0767, 0.060, 0.0467], "England": [0.062], "Netherlands": [0.040],
    "Scotland": [0.0953, 0.062, 0.0453, 0.0403, 0.0303, 0.042, 0.0453, 0.052, 0.0653, 0.0653],
    "Sweden": [0.007, 0.0453, 0.052, 0.0787, 0.0753, 0.072, 0.0853, 0.1003],
}

# third survey series (blue)
blue_dates = {"Netherlands": ["2020-05-14"]}
blue_vals = {"Netherlands": [0.0563]}
blue_lo = {"Netherlands": [0.052]}
blue_hi = {"Netherlands": [0.060]}

# ---------------- styling ----------------
GRID = "#EBEBEB"
AXIS_TXT = "#4D4D4D"
GREEN = "#33E633"
GREEN_FILL = "rgba(60,205,60,0.30)"
GREY_LINE = "#A8A8A8"
GREY_FILL = "rgba(175,175,175,0.30)"
BAND_FILL = "rgba(135,206,250,0.50)"
PINK = "#DB7093"

fig = go.Figure()

# ---- Panel A traces ----
gx = [c for c, vals in zip(countries, region_vals) for _ in vals]
gy = [v for vals in region_vals for v in vals]
fig.add_trace(go.Scatter(
    x=gx, y=gy, mode="markers", xaxis="x", yaxis="y", showlegend=False, hoverinfo="skip",
    marker=dict(size=10, color="rgba(190,190,190,0.6)", line=dict(width=0)),
))
for name, col in zip(continents, continent_colors):
    idx = [i for i, c in enumerate(continent) if c == name]
    fig.add_trace(go.Scatter(
        x=[countries[i] for i in idx], y=[estimate[i] for i in idx],
        mode="markers", name=name, legendgroup=name, xaxis="x", yaxis="y",
        marker=dict(size=10, color=col, line=dict(color="black", width=1.1)),
        error_y=dict(type="data", symmetric=False,
                     array=[est_hi[i] - estimate[i] for i in idx],
                     arrayminus=[estimate[i] - est_lo[i] for i in idx],
                     color="black", thickness=2.5, width=0),
    ))


def keep(dates, vals):
    pts = [(d, v) for d, v in zip(dates, vals) if v is not None]
    return [p[0] for p in pts], [p[1] for p in pts]


def ribbon(ax, ay, lo, hi, fill):
    xl, yl = keep(model_dates, lo)
    xh, yh = keep(model_dates, hi)
    fig.add_trace(go.Scatter(x=xl, y=yl, mode="lines", xaxis=ax, yaxis=ay, showlegend=False,
                             hoverinfo="skip", line=dict(width=0, shape="spline", smoothing=0.6)))
    fig.add_trace(go.Scatter(x=xh, y=yh, mode="lines", xaxis=ax, yaxis=ay, showlegend=False,
                             hoverinfo="skip", fill="tonexty", fillcolor=fill,
                             line=dict(width=0, shape="spline", smoothing=0.6)))


def survey(ax, ay, dates, vals, lo, hi, color):
    fig.add_trace(go.Scatter(
        x=dates, y=vals, mode="markers", xaxis=ax, yaxis=ay, showlegend=False,
        marker=dict(size=10, color=color, line=dict(width=0)),
        error_y=dict(type="data", symmetric=False,
                     array=[h - v for h, v in zip(hi, vals)],
                     arrayminus=[v - l for v, l in zip(vals, lo)],
                     color=color, thickness=2.5, width=0),
    ))


shapes = []
annotations = []
layout_axes = {}

# ---- Panel A axes ----
layout_axes["xaxis"] = dict(
    domain=[82 / W, 1403 / W], anchor="y", type="category", automargin=False,
    categoryorder="array", categoryarray=countries, range=[-0.6, 44.6],
    tickangle=-60, tickfont=dict(size=16, color=AXIS_TXT, family=FONT),
    ticks="outside", ticklen=5, tickcolor="#333333", tickwidth=1,
    showline=True, mirror=True, linecolor="#333333", linewidth=1,
    showgrid=True, gridcolor=GRID, gridwidth=1.1, zeroline=False,
)
layout_axes["yaxis"] = dict(
    domain=[1 - 325 / H, 1 - 14 / H], anchor="x", range=[-0.049, 1.046], automargin=False,
    tickvals=[0, 0.25, 0.5, 0.75, 1.0], ticktext=["0.00", "0.25", "0.50", "0.75", "1.00"],
    tickfont=dict(size=16, color=AXIS_TXT, family=FONT),
    ticks="outside", ticklen=5, tickcolor="#333333", tickwidth=1,
    showline=True, mirror=True, linecolor="#333333", linewidth=1,
    showgrid=True, gridcolor=GRID, gridwidth=1.1, zeroline=False,
    minor=dict(tickvals=[0.125, 0.375, 0.625, 0.875], showgrid=True, gridcolor=GRID, gridwidth=0.6, ticks=""),
)

# ---- Panel B ----
for i, c in enumerate(facets):
    row, col = divmod(i, 8)
    k = i + 2
    ax, ay = f"x{k}", f"y{k}"
    left = 82 + col * 166.57
    top = 530 if row == 0 else 742
    bottom = top + 168
    layout_axes[f"xaxis{k}"] = dict(
        domain=[left / W, (left + 156) / W], anchor=ay, type="date", automargin=False,
        range=["2020-01-11", "2020-09-18"],
        tickmode="array", tickvals=["2020-05-01", "2020-09-01"], ticktext=["May", "Sep"],
        showticklabels=(row == 1), tickfont=dict(size=16, color=AXIS_TXT, family=FONT),
        ticks="outside", ticklen=2, tickcolor="rgba(0,0,0,0)",
        showline=False, zeroline=False, showgrid=True, gridcolor=GRID, gridwidth=1.2,
        minor=dict(tickmode="array", tickvals=["2020-03-01", "2020-07-01"], showgrid=True,
                   gridcolor=GRID, gridwidth=0.7, ticks=""),
    )
    layout_axes[f"yaxis{k}"] = dict(
        domain=[1 - bottom / H, 1 - top / H], anchor=ax, range=[-0.008, 0.16], automargin=False,
        tickmode="array", tickvals=[0, 0.05, 0.10, 0.15], ticktext=["0.00", "0.05", "0.10", "0.15"],
        showticklabels=(col == 0), tickfont=dict(size=16, color=AXIS_TXT, family=FONT),
        ticks="outside", ticklen=6, tickcolor="rgba(0,0,0,0)",
        showline=False, zeroline=False, showgrid=True, gridcolor=GRID, gridwidth=1.2,
        minor=dict(tickmode="array", tickvals=[0.025, 0.075, 0.125], showgrid=True,
                   gridcolor=GRID, gridwidth=0.7, ticks=""),
    )
    for s, e in survey_windows[c]:
        shapes.append(dict(type="rect", xref=ax, yref=f"{ay} domain", x0=s, x1=e, y0=0, y1=1,
                           fillcolor=BAND_FILL, line=dict(width=0), layer="below"))

    ribbon(ax, ay, grey_lo[c], grey_hi[c], GREY_FILL)
    ribbon(ax, ay, green_lo[c], green_hi[c], GREEN_FILL)
    for line in grey_mid[c]:
        xs, ys = keep(model_dates, line)
        fig.add_trace(go.Scatter(x=xs, y=ys, mode="lines", xaxis=ax, yaxis=ay, showlegend=False,
                                 hoverinfo="skip",
                                 line=dict(color=GREY_LINE, width=2, dash="8px,5px", shape="spline", smoothing=0.6)))
    xs, ys = keep(model_dates, green_mid[c])
    fig.add_trace(go.Scatter(x=xs, y=ys, mode="lines", xaxis=ax, yaxis=ay, showlegend=False,
                             hoverinfo="skip", line=dict(color=GREEN, width=2, shape="spline", smoothing=0.6)))

    survey(ax, ay, black_dates[c], black_vals[c], black_lo[c], black_hi[c], "black")
    if c in pink_dates:
        survey(ax, ay, pink_dates[c], pink_vals[c], pink_lo[c], pink_hi[c], PINK)
    if c in blue_dates:
        survey(ax, ay, blue_dates[c], blue_vals[c], blue_lo[c], blue_hi[c], "#1A1AFF")

    annotations.append(dict(text=c, x=(left + 78) / W, y=1 - (top - 16) / H, xref="paper", yref="paper",
                            xanchor="center", yanchor="middle", showarrow=False,
                            font=dict(size=17, color="#1A1A1A", family=FONT)))

# titles and panel letters
annotations += [
    dict(text="<b>A</b>", x=23 / W, y=1 - 22 / H, font=dict(size=26, color="black", family=FONT)),
    dict(text="<b>B</b>", x=25 / W, y=1 - 506 / H, font=dict(size=26, color="black", family=FONT)),
    dict(text="Proportion", x=22 / W, y=1 - 170 / H, textangle=-90, font=dict(size=20, color="black", family=FONT)),
    dict(text="Proportion", x=22 / W, y=1 - 720 / H, textangle=-90, font=dict(size=20, color="black", family=FONT)),
    dict(text="Date", x=743 / W, y=1 - 947 / H, font=dict(size=20, color="black", family=FONT)),
    dict(text="ARTICLE PREVIEW", x=1035 / W, y=1 - 640 / H, textangle=-46,
         font=dict(size=142, color="rgba(105,105,105,0.55)", family=FONT)),
]
for a in annotations[-6:]:
    a.update(xref="paper", yref="paper", xanchor="center", yanchor="middle", showarrow=False)

fig.update_layout(
    width=W, height=H, margin=dict(l=0, r=0, t=0, b=0, autoexpand=False),
    paper_bgcolor="white", plot_bgcolor="white",
    font=dict(family=FONT, size=16, color=AXIS_TXT),
    showlegend=True,
    legend=dict(x=159 / W, y=1 - 55 / H, xanchor="left", yanchor="top", bgcolor="white",
                font=dict(size=17, color="black", family=FONT), traceorder="grouped",
                tracegroupgap=8, itemwidth=36, borderwidth=0),
    shapes=shapes, annotations=annotations, **layout_axes,
)

fig.write_html("out.html")
